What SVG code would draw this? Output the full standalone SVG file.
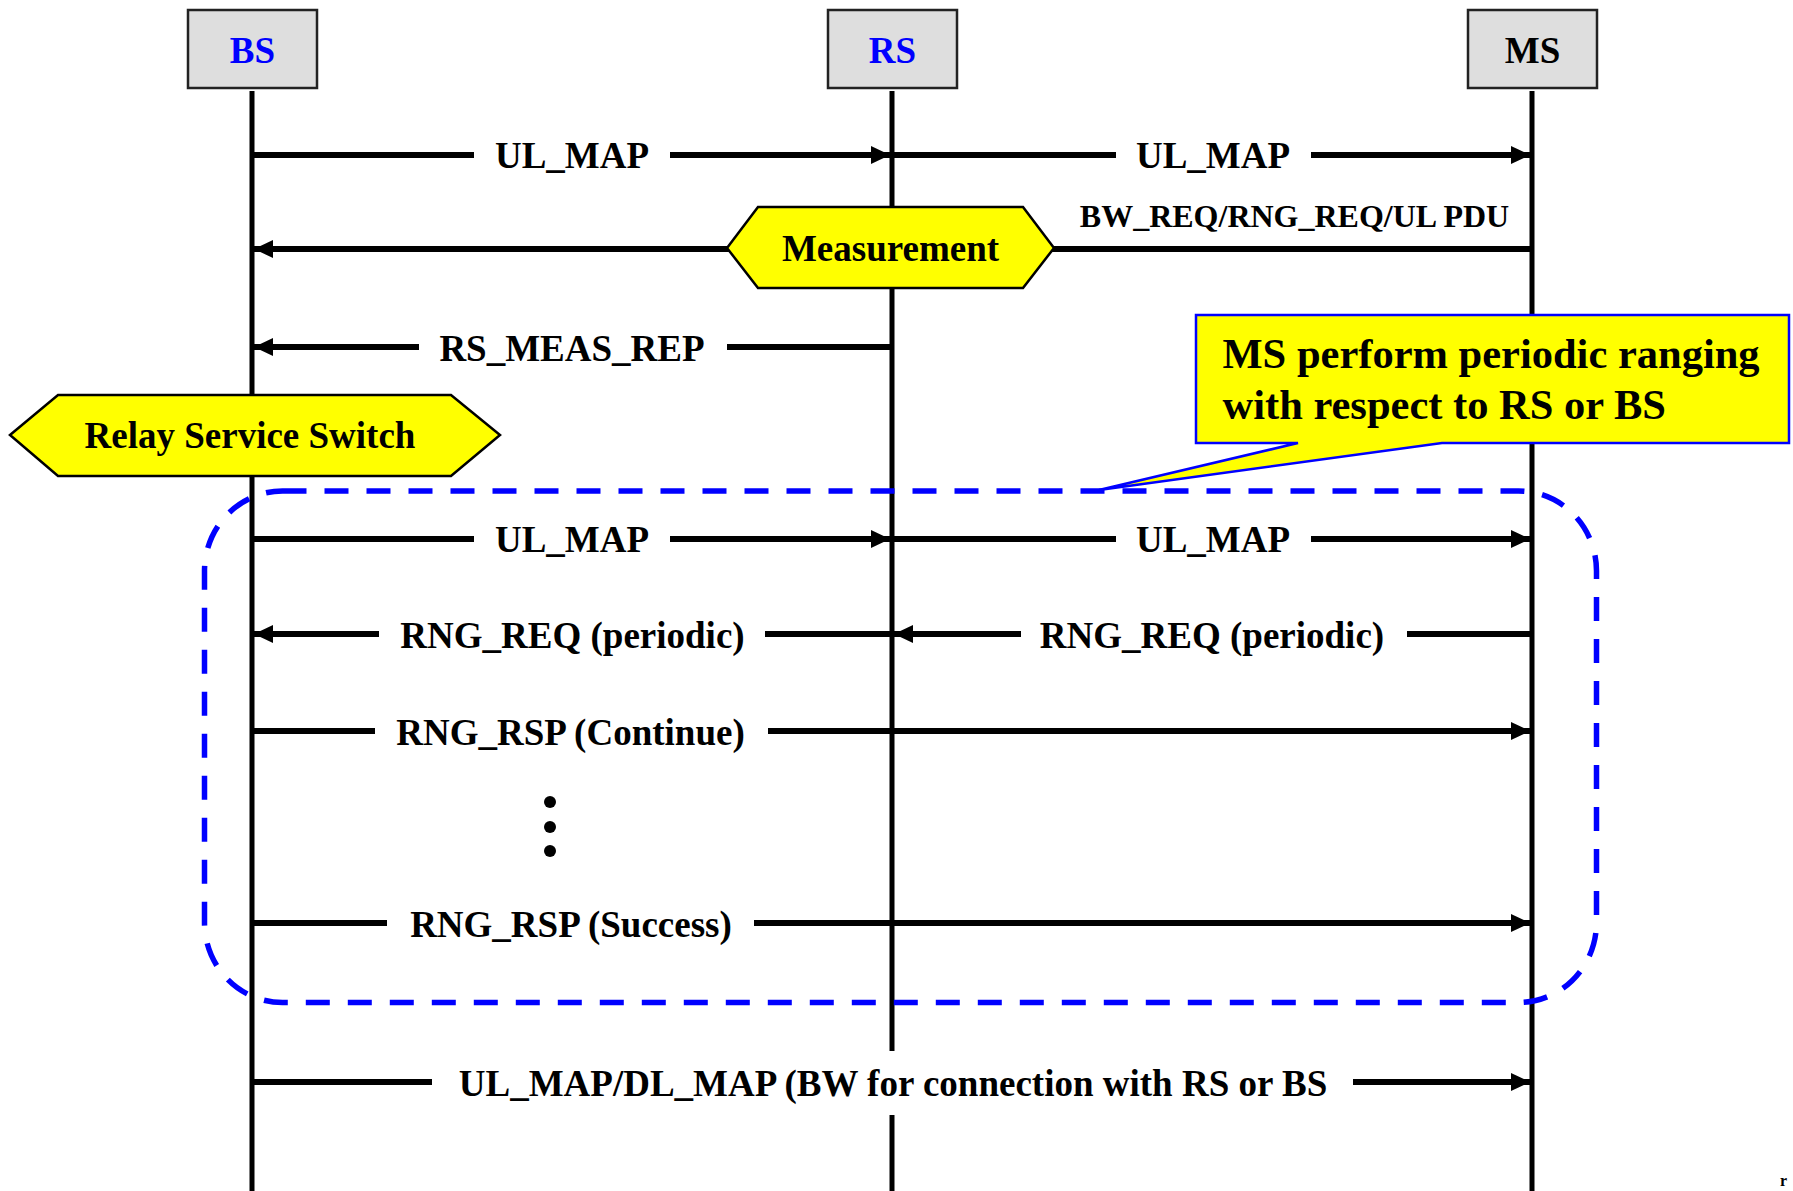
<svg xmlns="http://www.w3.org/2000/svg" width="1793" height="1191" viewBox="0 0 1793 1191">
<style>
.life{stroke:#000;stroke-width:5;fill:none}
.msg{stroke:#000;stroke-width:6;fill:none}
.box{fill:#dedede;stroke:#222;stroke-width:2.5}
.hex{fill:#ffff00;stroke:#000;stroke-width:2.5}
.t{font-family:"Liberation Serif","Times New Roman",serif;font-weight:bold;font-size:37px;fill:#000;text-anchor:middle}
.blue{fill:#0000ff}
</style>
<defs>
<marker id="ah" markerUnits="userSpaceOnUse" markerWidth="20" markerHeight="20" refX="19" refY="9" orient="auto" viewBox="0 0 20 18">
<path d="M0,0 L19,9 L0,18 Z" fill="#000"/>
</marker>
</defs>
<rect width="1793" height="1191" fill="#fff"/>
<g id="lifelines">
<line class="life" x1="252" y1="91" x2="252" y2="1191"/>
<line class="life" x1="892" y1="91" x2="892" y2="1051"/>
<line class="life" x1="892" y1="1115" x2="892" y2="1191"/>
<line class="life" x1="1532" y1="91" x2="1532" y2="1191"/>
</g>
<g id="node-BS">
<rect class="box" x="188" y="10" width="129" height="78"/>
<text class="t blue" x="252.5" y="63">BS</text>
</g>
<g id="node-RS">
<rect class="box" x="828" y="10" width="129" height="78"/>
<text class="t blue" x="892.5" y="63">RS</text>
</g>
<g id="node-MS">
<rect class="box" x="1468" y="10" width="129" height="78"/>
<text class="t" x="1532.5" y="63">MS</text>
</g>
<g id="connectors">
<line class="msg" x1="252" y1="155" x2="474" y2="155"/>
<line class="msg" x1="670" y1="155" x2="890" y2="155" marker-end="url(#ah)"/>
<line class="msg" x1="892" y1="155" x2="1116" y2="155"/>
<line class="msg" x1="1311" y1="155" x2="1530" y2="155" marker-end="url(#ah)"/>
<line class="msg" x1="1532" y1="249" x2="254" y2="249" marker-end="url(#ah)"/>
<line class="msg" x1="892" y1="347" x2="727" y2="347"/>
<line class="msg" x1="419" y1="347" x2="254" y2="347" marker-end="url(#ah)"/>
<line class="msg" x1="252" y1="539" x2="474" y2="539"/>
<line class="msg" x1="670" y1="539" x2="890" y2="539" marker-end="url(#ah)"/>
<line class="msg" x1="892" y1="539" x2="1116" y2="539"/>
<line class="msg" x1="1311" y1="539" x2="1530" y2="539" marker-end="url(#ah)"/>
<line class="msg" x1="892" y1="634" x2="765" y2="634"/>
<line class="msg" x1="379" y1="634" x2="254" y2="634" marker-end="url(#ah)"/>
<line class="msg" x1="1532" y1="634" x2="1407" y2="634"/>
<line class="msg" x1="1021" y1="634" x2="894" y2="634" marker-end="url(#ah)"/>
<line class="msg" x1="252" y1="731" x2="375" y2="731"/>
<line class="msg" x1="768" y1="731" x2="1530" y2="731" marker-end="url(#ah)"/>
<line class="msg" x1="252" y1="923" x2="387" y2="923"/>
<line class="msg" x1="754" y1="923" x2="1530" y2="923" marker-end="url(#ah)"/>
<line class="msg" x1="252" y1="1082" x2="432" y2="1082"/>
<line class="msg" x1="1353" y1="1082" x2="1530" y2="1082" marker-end="url(#ah)"/>
</g>
<g id="labels">
<text class="t" x="572" y="168">UL_MAP</text>
<text class="t" x="1213" y="168">UL_MAP</text>
<text class="t" x="1294.5" y="227" style="font-size:32px">BW_REQ/RNG_REQ/UL PDU</text>
<text class="t" x="572" y="360.5">RS_MEAS_REP</text>
<text class="t" x="572" y="552">UL_MAP</text>
<text class="t" x="1213" y="552">UL_MAP</text>
<text class="t" x="572.5" y="648">RNG_REQ (periodic)</text>
<text class="t" x="1212" y="648">RNG_REQ (periodic)</text>
<text class="t" x="570.5" y="745">RNG_RSP (Continue)</text>
<text class="t" x="571" y="937">RNG_RSP (Success)</text>
<text class="t" x="893" y="1096">UL_MAP/DL_MAP (BW for connection with RS or BS</text>
<circle cx="550" cy="802" r="6" fill="#000"/>
<circle cx="550" cy="827" r="6" fill="#000"/>
<circle cx="550" cy="851" r="6" fill="#000"/>
</g>
<g id="node-Measurement">
<polygon class="hex" points="727,248 758,207 1023,207 1054,248 1023,288 758,288"/>
<text class="t" x="890.5" y="260.5">Measurement</text>
</g>
<g id="node-RelayServiceSwitch">
<polygon class="hex" points="10,435 58,395 451,395 500,435 451,476 58,476"/>
<text class="t" x="250" y="448">Relay Service Switch</text>
</g>
<g id="group-periodic-ranging">
<rect x="204.5" y="491" width="1392" height="511.5" rx="78" ry="80" fill="none" stroke="#0000ff" stroke-width="5.5" stroke-dasharray="24 18"/>
</g>
<g id="note-periodic-ranging">
<path d="M1196,315 H1789 V443 H1442 L1099,490 L1298,443 H1196 Z" fill="#ffff00" stroke="#0000ff" stroke-width="2.5"/>
<text class="t" x="1222.5" y="368" style="font-size:42.5px;text-anchor:start">MS perform periodic ranging</text>
<text class="t" x="1222.5" y="419" style="font-size:42.5px;text-anchor:start">with respect to RS or BS</text>
</g>
<text x="1780" y="1186" style="font-family:'Liberation Serif',serif;font-weight:bold;font-size:16px">r</text>
</svg>
